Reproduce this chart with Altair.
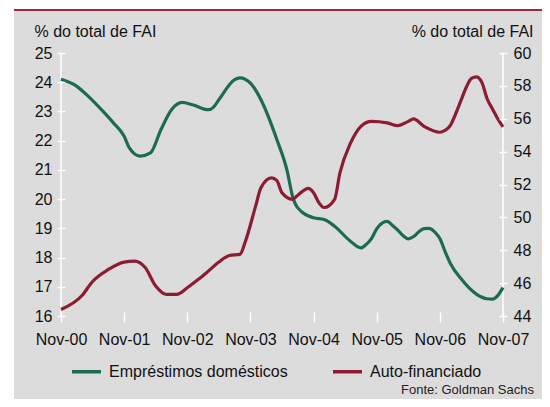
import json
import altair as alt
import pandas as pd

# ---------------- data ----------------
green_name = "Empréstimos domésticos"
red_name = "Auto-financiado"
axis_title = "% do total de FAI"
source_text = "Fonte: Goldman Sachs"

green_dates = ["2000-11", "2001-02", "2001-04", "2001-07", "2001-09", "2001-11", "2001-12",
               "2002-02", "2002-04", "2002-06", "2002-08", "2002-10", "2002-12", "2003-03",
               "2003-04", "2003-05", "2003-08", "2003-09", "2003-11", "2004-01", "2004-04",
               "2004-06", "2004-07", "2004-08", "2004-11", "2005-01", "2005-03", "2005-06",
               "2005-08", "2005-09", "2005-10", "2005-11", "2005-12", "2006-01", "2006-02",
               "2006-03", "2006-04", "2006-05", "2006-06", "2006-07", "2006-08", "2006-09",
               "2006-10", "2006-11", "2006-12", "2007-01", "2007-03", "2007-06", "2007-08",
               "2007-09", "2007-10", "2007-11"]
green_values = [24.10, 23.86, 23.55, 23.00, 22.60, 22.15, 21.75,
                21.47, 21.58, 22.38, 23.06, 23.31, 23.23, 23.06,
                23.15, 23.40, 24.09, 24.15, 23.97, 23.40, 22.05,
                20.95, 20.10, 19.70, 19.36, 19.30, 19.07, 18.56,
                18.33, 18.45, 18.65, 18.98, 19.18, 19.24, 19.10,
                18.94, 18.75, 18.64, 18.72, 18.88, 18.99, 19.00,
                18.88, 18.65, 18.20, 17.80, 17.28, 16.74, 16.59,
                16.58, 16.70, 16.97]

red_dates = ["2000-11", "2001-03", "2001-05", "2001-08", "2001-11", "2002-01", "2002-03",
             "2002-05", "2002-07", "2002-09", "2002-11", "2003-01", "2003-03", "2003-05",
             "2003-07", "2003-09", "2003-10", "2003-12", "2004-01", "2004-03", "2004-04",
             "2004-05", "2004-07", "2004-08", "2004-10", "2004-11", "2004-12", "2005-01",
             "2005-03", "2005-04", "2005-06", "2005-08", "2005-10", "2006-01", "2006-03",
             "2006-05", "2006-06", "2006-08", "2006-11", "2006-12", "2007-01", "2007-02",
             "2007-03", "2007-04", "2007-05", "2007-06", "2007-07", "2007-08", "2007-09",
             "2007-10", "2007-11"]
red_values = [44.40, 45.25, 46.10, 46.83, 47.28, 47.34, 46.95,
              45.82, 45.32, 45.32, 45.72, 46.20, 46.73, 47.28,
              47.68, 47.75, 48.50, 50.70, 51.80, 52.40, 52.25,
              51.50, 51.10, 51.35, 51.76, 51.50, 50.90, 50.60,
              51.10, 52.70, 54.50, 55.54, 55.84, 55.75, 55.58,
              55.84, 55.99, 55.54, 55.18, 55.30, 55.60, 56.30,
              57.10, 57.90, 58.45, 58.55, 58.20, 57.20, 56.60,
              56.00, 55.50]

tick_dates = ["2000-11", "2001-11", "2002-11", "2003-11", "2004-11", "2005-11", "2006-11", "2007-11"]
tick_labels = ["Nov-00", "Nov-01", "Nov-02", "Nov-03", "Nov-04", "Nov-05", "Nov-06", "Nov-07"]
left_ticks = [16, 17, 18, 19, 20, 21, 22, 23, 24, 25]
right_ticks = [44, 46, 48, 50, 52, 54, 56, 58, 60]

GREEN = "#1d6a52"
RED = "#8c1c32"
PANEL = "#dcdcdc"
TOPLINE = "#a0283c"
FONT = "Liberation Sans"


def month_index(s):
    return (int(s[:4]) - 2000) * 12 + int(s[5:7]) - 11


df = pd.concat([
    pd.DataFrame({"date": green_dates, "value": green_values, "series": green_name}),
    pd.DataFrame({"date": red_dates, "value": red_values, "series": red_name}),
], ignore_index=True)
df["m"] = df["date"].map(month_index)

tick_pos = [month_index(d) for d in tick_dates]
x_domain = [tick_pos[0], tick_pos[-1]]
edges = pd.DataFrame({"m": x_domain})

TOTAL_W, TOTAL_H = 534, 391
W, H = 442, 263
LEFT, TOP = 53, 45
PAD = {"left": LEFT, "top": TOP, "right": TOTAL_W - LEFT - W, "bottom": TOTAL_H - TOP - H}

label_expr = f"{json.dumps(tick_labels)}[indexof({json.dumps(tick_pos)}, datum.value)]"

x_enc = alt.X(
    "m:Q",
    scale=alt.Scale(domain=x_domain, nice=False, zero=False),
    axis=alt.Axis(values=tick_pos, labelExpr=label_expr, title=None, grid=False,
                  domain=False, ticks=True, tickColor="white", tickSize=10, tickWidth=1.5,
                  offset=-4, labelPadding=9, labelFontSize=16, labelColor="#111",
                  labelFont=FONT, labelOverlap=False, labelFlush=False, zindex=1),
)

color_enc = alt.Color(
    "series:N",
    scale=alt.Scale(domain=[green_name, red_name], range=[GREEN, RED]),
    legend=alt.Legend(orient="none", legendX=9, legendY=302, direction="horizontal",
                      title=None, symbolType="stroke", symbolSize=841,
                      symbolStrokeWidth=3.5, labelFontSize=16, labelFont=FONT,
                      labelColor="#111", labelOffset=6, columnPadding=38, padding=0,
                      labelLimit=400, zindex=1),
)

panel = alt.Chart(alt.Data(values=[{}])).mark_rect(color=PANEL).encode(
    x=alt.value(-47), x2=alt.value(TOTAL_W - LEFT), y=alt.value(-42), y2=alt.value(TOTAL_H - TOP)
)
topline = alt.Chart(alt.Data(values=[{}])).mark_rule(color=TOPLINE, strokeWidth=2).encode(
    x=alt.value(-47), x2=alt.value(TOTAL_W - LEFT), y=alt.value(-43)
)
edge_rules = alt.Chart(edges).mark_rule(color="white", strokeWidth=1.5).encode(
    x=x_enc, y=alt.value(0), y2=alt.value(H)
)

green_line = alt.Chart(df).transform_filter(
    alt.datum.series == green_name
).mark_line(interpolate="monotone", strokeWidth=3.2).encode(
    x=x_enc,
    y=alt.Y("value:Q",
            scale=alt.Scale(domain=[16, 25], nice=False, zero=False),
            axis=alt.Axis(orient="left", values=left_ticks, title=axis_title,
                          titleAngle=0, titleAlign="left", titleBaseline="alphabetic",
                          titleX=-31, titleY=-17, titleFontSize=16, titleFont=FONT,
                          titleFontWeight="normal", titleColor="#111",
                          grid=False, domain=False, tickColor="white", tickSize=8,
                          tickWidth=1.5, offset=-4, labelPadding=5, labelFontSize=16,
                          labelFont=FONT, labelColor="#111", labelFlush=False, zindex=1)),
    color=color_enc,
)

red_line = alt.Chart(df).transform_filter(
    alt.datum.series == red_name
).mark_line(interpolate="monotone", strokeWidth=3.2).encode(
    x=x_enc,
    y=alt.Y("value:Q",
            scale=alt.Scale(domain=[44, 60], nice=False, zero=False),
            axis=alt.Axis(orient="right", values=right_ticks, title=axis_title,
                          titleAngle=0, titleAlign="right", titleBaseline="alphabetic",
                          titleX=34, titleY=-17, titleFontSize=16, titleFont=FONT,
                          titleFontWeight="normal", titleColor="#111",
                          grid=False, domain=False, tickColor="white", tickSize=8,
                          tickWidth=1.5, offset=-4, labelPadding=6, labelFontSize=16,
                          labelFont=FONT, labelColor="#111", labelFlush=False, zindex=1)),
    color=color_enc,
)

source = alt.Chart(alt.Data(values=[{"t": source_text}])).mark_text(
    align="right", baseline="alphabetic", fontSize=13, font=FONT, color="#222"
).encode(x=alt.value(473), y=alt.value(341), text="t:N")

chart = alt.layer(
    panel, topline, edge_rules, green_line, red_line, source
).resolve_scale(
    y="independent"
).properties(
    width=W, height=H, padding=PAD, autosize=alt.AutoSizeParams(type="none"),
    background="white",
).configure_view(stroke=None)

chart.save("out.html", embed_options={"renderer": "svg", "actions": False})
